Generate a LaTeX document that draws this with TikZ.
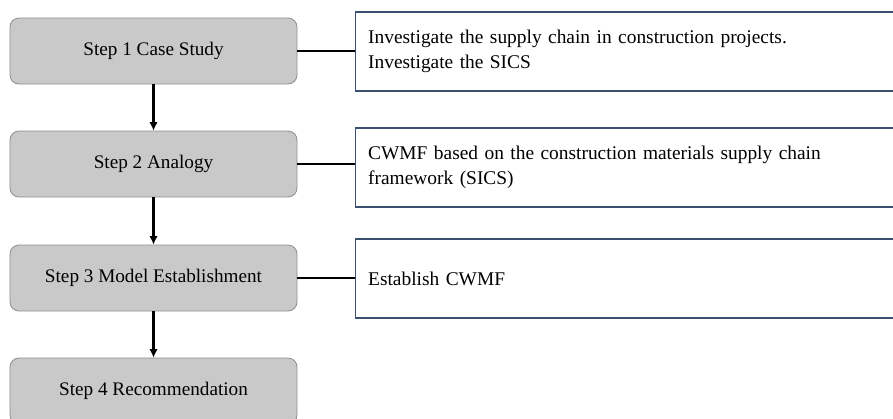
\documentclass[tikz,border=0pt]{standalone}
\usepackage{fontspec}
\setmainfont{Liberation Serif}
\usepackage{xcolor}
\usetikzlibrary{arrows.meta}
\definecolor{stepgray}{HTML}{C9C9C9}
\definecolor{stepedge}{HTML}{8E8E8E}
\definecolor{taskblue}{HTML}{3B4F70}

\begin{document}
\begin{tikzpicture}[x=1pt,y=-1pt]
\tikzset{>={Latex[width=3mm,length=3mm]}}
\tikzstyle{stepbox} =[draw=stepedge,fill=stepgray,rounded corners=9pt,line width=0.8pt,minimum width=287pt,minimum height=66pt,font=\fontsize{19.2}{23}\selectfont]
\tikzstyle{taskbox} =[draw=taskblue,line width=1.4pt,anchor=west,minimum width=560pt,minimum height=79pt,text width=535pt,inner sep=12pt,align=left,font=\fontsize{19.4}{25}\selectfont]

\useasboundingbox (0,0) rectangle (893,418);
\clip (0,0) rectangle (893,418);

\node[stepbox](s1) at (153.5,51){Step 1 Case Study};
\node[stepbox](s2) at (153.5,164){Step 2 Analogy};
\node[stepbox](s3) at (153.5,278){Step 3 Model Establishment};
\node[stepbox](s4) at (153.5,391){Step 4 Recommendation};

\node[taskbox](t1) at (355,51.5){Investigate the supply chain in construction projects.\\Investigate the SICS};
\node[taskbox](t2) at (355,167.5){CWMF based on the construction materials supply chain\\framework (SICS)};
\node[taskbox](t3) at (355,278.5){Establish CWMF};

\draw [->,line width=2.2pt] (s1) to (s2);
\draw [->,line width=2.2pt] (s2) to (s3);
\draw [->,line width=2.2pt] (s3) to (s4);

\draw [line width=1.4pt] (s1.east) to (s1.east -| t1.west);
\draw [line width=1.4pt] (s2.east) to (s2.east -| t2.west);
\draw [line width=1.4pt] (s3.east) to (s3.east -| t3.west);
\end{tikzpicture}
\end{document}
